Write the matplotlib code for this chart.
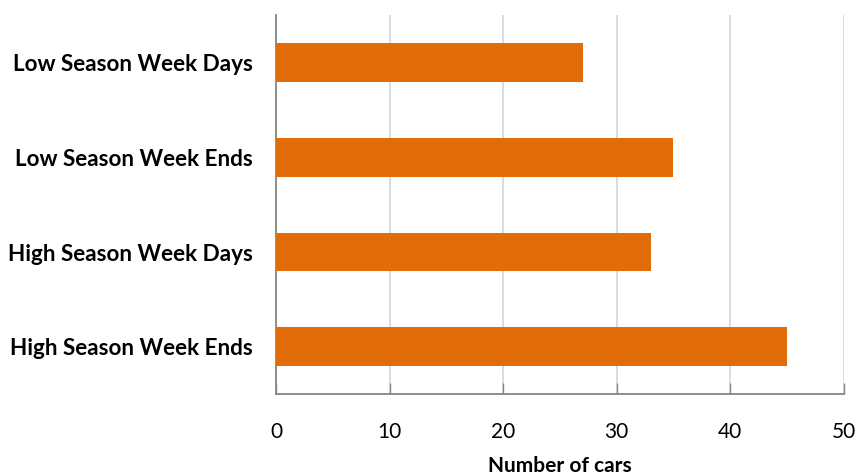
import matplotlib
matplotlib.use("Agg")
import matplotlib.pyplot as plt

categories = ["Low Season Week Days", "Low Season Week Ends",
              "High Season Week Days", "High Season Week Ends"]
cars = [27, 35, 33, 45]
x_ticks = [0, 10, 20, 30, 40, 50]

plt.rcParams['font.family'] = ['Lato', 'DejaVu Sans']

fig = plt.figure(figsize=(8.6, 4.76), dpi=100)
ax = fig.add_axes([0.321, 0.172, 0.660, 0.796])

ypos = list(range(len(categories)))
ax.barh(ypos, cars, height=0.41, color="#E36C0A", zorder=3)
ax.set_yticks(ypos)
ax.set_yticklabels(categories, fontsize=16.2, fontweight="bold")
ax.set_ylim(len(categories) - 0.5, -0.5)

ax.set_xlim(0, 50)
ax.set_xticks(x_ticks)
ax.tick_params(axis="x", direction="in", length=8, width=1, color="#868686",
               labelsize=15, pad=20)
ax.tick_params(axis="y", length=0, pad=17)
ax.grid(axis="x", color="#CDD3DE", linewidth=1.1, zorder=0)

for side in ["top", "right"]:
    ax.spines[side].set_visible(False)
for side in ["left", "bottom"]:
    ax.spines[side].set_color("#868686")
    ax.spines[side].set_linewidth(1.3)

ax.set_xlabel("Number of cars", fontsize=15, fontweight="bold", labelpad=10)

fig.savefig("out.png", dpi=100)
